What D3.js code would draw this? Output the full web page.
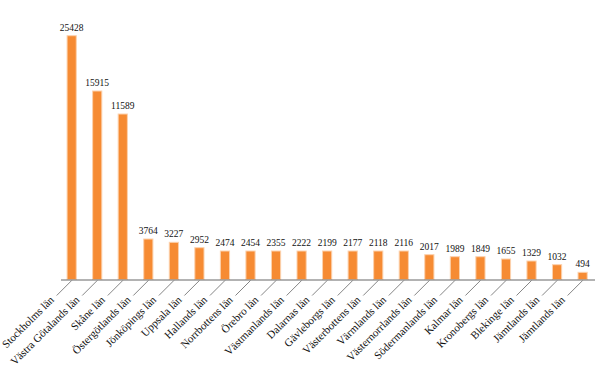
<!DOCTYPE html>
<html>
<head>
<meta charset="utf-8">
<script src="https://cdn.jsdelivr.net/npm/d3@7"></script>
<style>
    body { margin: 0; background: #fff; }
    text { font-family: "Liberation Serif", "DejaVu Serif", serif; }
</style>
</head>
<body>
<div id="chart"></div>
<script>
// county names (x axis)
let counties = ["Stockholms län", "Västra Götalands län", "Skåne län", "Östergötlands län",
    "Jönköpings län", "Uppsala län", "Hallands län", "Norrbottens län", "Örebro län",
    "Västmanlands län", "Dalarnas län", "Gävleborgs län", "Västerbottens län", "Värmlands län",
    "Västernorrlands län", "Södermanlands län", "Kalmar län", "Kronobergs län", "Blekinge län",
    "Jämtlands län", "Jämtlands län"];

// numbers printed above the bars
let labelValues = [25428, 15915, 11589, 3764, 3227, 2952, 2474, 2454, 2355, 2222, 2199,
    2177, 2118, 2116, 2017, 1989, 1849, 1655, 1329, 1032, 494];

// bar lengths as drawn in the picture (same units as the labels)
let barValues = [25428, 19660, 17260, 4224, 3880, 3317, 2972, 2972, 2972, 2972, 2972,
    2972, 2972, 2972, 2587, 2378, 2378, 2138, 1930, 1544, 751];

function countybars() {
    let width = 595,
        height = 381,
        baseline = 279.5;

    let svg = d3.select("#chart")
        .append("svg")
        .attr("width", width)
        .attr("height", height);

    let data = counties.map(function (c, i) {
        return { name: c, idx: i, label: labelValues[i], value: barValues[i] };
    });

    let x = d3.scaleBand()
        .domain(d3.range(counties.length))
        .range([59.5, 596])
        .padding(0);

    let y = d3.scaleLinear()
        .domain([0, d3.max(barValues)])
        .range([baseline, 35.7]);

    let barWidth = x.bandwidth() * 0.36;

    function cx(d) {
        return x(d.idx) + x.bandwidth() / 2 - 0.6;
    }

    svg.selectAll(".bar")
        .data(data)
        .enter()
        .append("rect")
        .attr("class", "bar")
        .attr("x", function (d) { return cx(d) - barWidth / 2; })
        .attr("y", function (d) { return y(d.value); })
        .attr("width", barWidth)
        .attr("height", function (d) { return baseline - y(d.value); })
        .style("fill", "#f68b33")
        .style("stroke", "#fcd2ae")
        .style("stroke-width", 1);

    // axis line
    svg.append("line")
        .attr("x1", 61)
        .attr("x2", width)
        .attr("y1", baseline + 0.5)
        .attr("y2", baseline + 0.5)
        .style("stroke", "#666")
        .style("stroke-width", 1);

    svg.selectAll(".vlabel")
        .data(data)
        .enter()
        .append("text")
        .attr("class", "vlabel")
        .attr("x", cx)
        .attr("y", function (d) { return y(d.value) - 5; })
        .attr("text-anchor", "middle")
        .style("font-size", "9.5px")
        .style("fill", "#111")
        .text(function (d) { return d.label; });

    // leader lines from the axis to the rotated names
    svg.selectAll(".leader")
        .data(data)
        .enter()
        .append("line")
        .attr("class", "leader")
        .attr("x1", cx)
        .attr("y1", baseline + 1)
        .attr("x2", function (d) { return cx(d) - 15; })
        .attr("y2", baseline + 16)
        .style("stroke", "#666")
        .style("stroke-width", 0.8);

    svg.selectAll(".clabel")
        .data(data)
        .enter()
        .append("text")
        .attr("class", "clabel")
        .attr("transform", function (d) {
            return "translate(" + (cx(d) - 17) + "," + (baseline + 21) + ") rotate(-45)";
        })
        .attr("text-anchor", "end")
        .style("font-size", "11px")
        .style("fill", "#111")
        .text(function (d) { return d.name; });
}

countybars();
</script>
</body>
</html>
